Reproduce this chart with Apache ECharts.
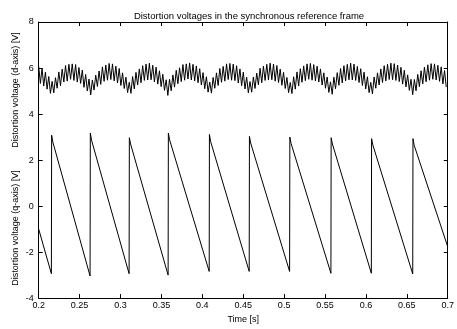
<!DOCTYPE html>
<html>
<head>
<meta charset="utf-8">
<script src="https://cdn.jsdelivr.net/npm/echarts@6/dist/echarts.min.js"></script>
<style>html,body{margin:0;padding:0;background:#fff}#c{width:457px;height:329px}</style>
</head>
<body>
<div id="c"></div>
<script>
// ---- data ----
var titleText = 'Distortion voltages in the synchronous reference frame';
var xLabel = 'Time [s]';
var yLabelD = 'Distortion voltage (d-axis) [V]';
var yLabelQ = 'Distortion voltage (q-axis) [V]';
var xTicks = [0.2, 0.25, 0.3, 0.35, 0.4, 0.45, 0.5, 0.55, 0.6, 0.65, 0.7];
var yTicks = [-4, -2, 0, 2, 4, 6, 8];

// d-axis samples (sample grid start & step in seconds)
var dStart = 0.2, dStep = 0.00205;
var dValues = [
6.07,5.33,5.99,5.22,5.82,5.08,5.63,4.90,5.42,4.92,5.58,5.12,5.83,5.23,5.95,5.39,6.11,5.43,6.16,5.51,
6.18,5.46,6.15,5.39,6.02,5.33,5.91,5.16,5.72,5.00,5.52,4.83,5.48,5.04,5.69,5.20,5.87,5.29,6.05,5.42,
6.13,5.47,6.20,5.50,6.18,5.44,6.08,5.35,5.98,5.24,5.79,5.11,5.60,4.93,5.38,4.90,5.63,5.09,5.81,5.26,
5.96,5.36,6.10,5.46,6.17,5.48,6.21,5.49,6.12,5.40,6.04,5.30,5.88,5.19,5.73,5.03,5.49,4.81,5.51,5.01,
5.70,5.17,5.90,5.32,6.01,5.41,6.15,5.47,6.18,5.52,6.22,5.48,6.16,5.44,6.09,5.36,5.97,5.26,5.80,5.10,
5.62,4.95,5.39,4.91,5.59,5.12,5.79,5.24,5.98,5.38,6.07,5.43,6.18,5.50,6.20,5.47,6.17,5.45,6.10,5.35,
5.96,5.23,5.82,5.09,5.60,4.92,5.41,4.95,5.61,5.11,5.78,5.27,5.99,5.36,6.08,5.46,6.16,5.48,6.21,5.49,
6.17,5.43,6.11,5.37,5.95,5.25,5.81,5.11,5.59,4.93,5.37,4.89,5.62,5.08,5.83,5.22,5.97,5.38,6.09,5.45,
6.18,5.51,6.20,5.47,6.15,5.44,6.08,5.39,5.96,5.26,5.79,5.12,5.61,4.94,5.40,4.86,5.60,5.10,5.80,5.25,
5.98,5.35,6.10,5.44,6.16,5.49,6.21,5.48,6.17,5.46,6.07,5.37,5.97,5.24,5.82,5.09,5.62,4.93,5.38,4.88,
5.61,5.12,5.79,5.26,5.96,5.37,6.10,5.44,6.16,5.50,6.21,5.49,6.19,5.46,6.13,5.41,6.03,5.30,5.90,5.18,
5.70,5.03,5.51,4.84,5.50,5.01,5.72,5.19,5.88,5.31,6.04,5.40,6.14,5.47,6.19,5.51,6.18,5.48,6.12,5.42,
6.05,5.31,5.89,5.17
];

// q-axis sawtooth
var qStartTime = 0.2, qStartValue = -1.0;
var qJumpTimes = [0.2158, 0.2631, 0.3108, 0.3585, 0.4087, 0.4576, 0.5070, 0.5575, 0.6069, 0.6575];
var qPeaks     = [3.08, 3.17, 2.97, 3.17, 3.11, 3.03, 3.00, 2.97, 2.93, 2.93];
var qAfterPeak = [2.78, 2.86, 2.70, 2.88, 2.80, 2.74, 2.72, 2.70, 2.66, 2.64];
var qTroughs   = [-2.94, -3.04, -2.94, -3.00, -2.84, -2.84, -2.84, -2.92, -2.92, -2.95];
var qEndTime = 0.7, qEndValue = -1.77;

// ---- build series ----
var dData = dValues.map(function (v, i) { return [dStart + i * dStep, v]; });
var qData = [[qStartTime, qStartValue]];
for (var k = 0; k < qJumpTimes.length; k++) {
  qData.push([qJumpTimes[k] - 0.0003, qTroughs[k]]);
  qData.push([qJumpTimes[k], qPeaks[k]]);
  qData.push([qJumpTimes[k] + 0.0015, qAfterPeak[k]]);
}
qData.push([qEndTime, qEndValue]);

var FONT = 'Liberation Sans, Arial, sans-serif';
var chart = echarts.init(document.getElementById('c'), null, {renderer: 'canvas'});
var axisCommon = {
  axisLine: {show: true, onZero: false, lineStyle: {color: '#000', width: 1}},
  axisTick: {show: true, inside: true, length: 4, lineStyle: {color: '#000'}},
  splitLine: {show: false}
};
chart.setOption({
  animation: false,
  backgroundColor: '#fff',
  title: {
    text: titleText, left: 244, top: 6, textAlign: 'center',
    textStyle: {fontFamily: FONT, fontSize: 9.5, fontWeight: 'normal', color: '#000'}
  },
  grid: {left: 38.7, right: 7, top: 22, bottom: 23, show: false},
  xAxis: [
    Object.assign({type: 'value', min: xTicks[0], max: xTicks[xTicks.length - 1], interval: 0.05, position: 'bottom',
      axisLabel: {fontFamily: FONT, fontSize: 9, color: '#000', margin: 3,
        formatter: function (v) { return String(+v.toFixed(2)); }},
      name: xLabel, nameLocation: 'middle', nameGap: 13,
      nameTextStyle: {fontFamily: FONT, fontSize: 9, color: '#000'}}, axisCommon),
    Object.assign({type: 'value', min: xTicks[0], max: xTicks[xTicks.length - 1], interval: 0.05, position: 'top',
      axisLabel: {show: false}}, axisCommon)
  ],
  yAxis: [
    Object.assign({type: 'value', min: yTicks[0], max: yTicks[yTicks.length - 1], interval: 2, position: 'left',
      axisLabel: {fontFamily: FONT, fontSize: 9, color: '#000', margin: 5}}, axisCommon),
    Object.assign({type: 'value', min: yTicks[0], max: yTicks[yTicks.length - 1], interval: 2, position: 'right',
      axisLabel: {show: false}}, axisCommon)
  ],
  graphic: [
    {type: 'text', x: 16, y: 90, rotation: Math.PI / 2,
      style: {text: yLabelD, font: '9px ' + FONT, fill: '#000', align: 'center', verticalAlign: 'middle'}},
    {type: 'text', x: 16, y: 228, rotation: Math.PI / 2,
      style: {text: yLabelQ, font: '9px ' + FONT, fill: '#000', align: 'center', verticalAlign: 'middle'}}
  ],
  series: [
    {type: 'line', data: dData, showSymbol: false, lineStyle: {color: '#000', width: 1}, silent: true},
    {type: 'line', data: qData, showSymbol: false, lineStyle: {color: '#000', width: 1}, silent: true}
  ]
});
</script>
</body>
</html>
